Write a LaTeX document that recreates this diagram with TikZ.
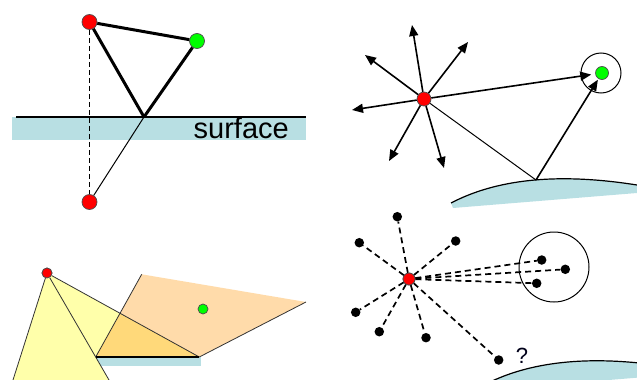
\documentclass[tikz,border=0pt]{standalone}
\usepackage{fontspec}
\setmainfont{Liberation Sans}
\usetikzlibrary{arrows.meta,calc}
\definecolor{surf}{RGB}{184,223,227}
\definecolor{yel}{RGB}{255,255,170}
\definecolor{ora}{RGB}{255,219,170}
\definecolor{ovl}{RGB}{255,217,122}
\definecolor{redd}{RGB}{255,0,0}
\definecolor{grn}{RGB}{0,255,0}
\begin{document}
\begin{tikzpicture}[x=1pt,y=-1pt,
  dot/.style={circle,inner sep=0pt,minimum size=#1,draw=black!70,line width=0.7pt},
  reddot/.style={dot=#1,fill=redd},
  grndot/.style={dot=#1,fill=grn},
  blkdot/.style={circle,inner sep=0pt,minimum size=9.5pt,fill=black},
  thickline/.style={line width=3pt},
  thinline/.style={line width=1pt},
  arr/.style={line width=1.6pt,-{Triangle[length=11pt,width=9pt]}},
  dline/.style={line width=1.7pt,dash pattern=on 6pt off 4pt},
  ring/.style={circle,draw,line width=1pt,inner sep=0pt}]
\useasboundingbox (0,0) rectangle (637,380);

% ---------- top left ----------
\fill[surf] (12,117) rectangle (306,140);
\coordinate (sl) at (16,117);
\coordinate (sr) at (306,117);
\draw[line width=1.5pt] (sl) -- (sr);
\node[anchor=base east,inner sep=0pt,font=\fontsize{29}{30}\selectfont] (surflabel) at (289,138) {surface};
\node[reddot=15pt] (r1) at (89.5,22) {};
\node[grndot=15pt] (g1) at (197,41) {};
\node[reddot=15pt] (r2) at (89.5,202) {};
\coordinate (P) at (144,117);
\draw[line width=1.6pt,dash pattern=on 5pt off 3pt] (r1) -- (r2);
\draw[thickline] (r1) -- (P);
\draw[thickline] (P) -- (g1);
\draw[thickline] (r1) -- (g1);
\draw[thinline] (P) -- (r2);

% ---------- top right ----------
\fill[surf] (451,203) .. controls (495,180) and (555,172) .. (637,185) -- (637,193) -- (453,208) -- cycle;
\draw[line width=1.2pt] (451,203) .. controls (495,180) and (555,172) .. (637,185);
\coordinate (S2) at (536,180);
\node[reddot=14pt] (r3) at (424,99) {};
\node[grndot=13pt] (g2) at (602,73) {};
\node[ring,minimum size=40pt] (c2) at (601,73) {};
\coordinate (t1) at (412,25);
\coordinate (t2) at (468,42);
\coordinate (t3) at (365,55);
\coordinate (t4) at (352,110);
\coordinate (t5) at (389,161);
\coordinate (t6) at (444,168);
\foreach \t in {t1,t2,t3,t4,t5,t6} \draw[arr] (r3) -- (\t);
\draw[arr,shorten >=4pt] (r3) -- (g2);
\draw[thinline] (r3) -- (S2);
\draw[arr,shorten >=1pt] (S2) -- (g2);

% ---------- bottom left ----------
\coordinate (L1) at (13,380);
\coordinate (L2) at (109,380);
\coordinate (A) at (95.7,357);
\coordinate (B) at (199.3,357);
\coordinate (Q1) at (141.7,274.3);
\coordinate (Q2) at (306,302);
\node[reddot=10pt] (r4) at (47,273) {};
\fill[surf] (95,357) rectangle (201,366);
\fill[yel] (r4.center) -- (L1) -- (L2) -- cycle;
\fill[yel] (r4.center) -- (A) -- (B) -- cycle;
\fill[ora] (A) -- (Q1) -- (Q2) -- (B) -- cycle;
\begin{scope}
  \clip (A) -- (Q1) -- (Q2) -- (B) -- cycle;
  \fill[ovl] (r4.center) -- (A) -- (B) -- cycle;
\end{scope}
\draw[line width=0.8pt,black!80] (r4) -- (L1);
\draw[line width=0.8pt,black!80] (r4) -- (L2);
\draw[line width=0.8pt,black!80] (r4) -- (B);
\draw[line width=0.8pt,black!80] (A) -- (Q1);
\draw[line width=0.8pt,black!80] (B) -- (Q2);
\draw[line width=2.5pt] (A) -- (B);
\node[reddot=10pt] (r4b) at (47,273) {};
\node[grndot=10pt] (g4) at (203,309) {};

% ---------- bottom right ----------
\begin{scope}
  \clip (0,0) rectangle (637,380);
  \begin{scope}[shift={(33,182)}]
    \fill[surf] (451,203) .. controls (495,180) and (555,172) .. (637,185) -- (637,193) -- (453,208) -- cycle;
    \draw[line width=1.2pt] (451,203) .. controls (495,180) and (555,172) .. (637,185);
  \end{scope}
\end{scope}
\node[ring,minimum size=70pt] (c5) at (554,267) {};
\node[reddot=12pt] (r5) at (409,279) {};
\node[blkdot] (b1) at (397.3,216.7) {};
\node[blkdot] (b2) at (359.3,242.7) {};
\node[blkdot] (b3) at (455.7,241) {};
\node[blkdot] (b4) at (355.7,312.3) {};
\node[blkdot] (b5) at (379.3,331.7) {};
\node[blkdot] (b6) at (426,337.7) {};
\node[blkdot] (b7) at (498.7,360) {};
\node[blkdot] (b8) at (541.7,260) {};
\node[blkdot] (b9) at (565.3,269.3) {};
\node[blkdot] (b10) at (536.7,283.3) {};
\foreach \b in {b1,b2,b3,b4,b5,b6,b7,b8,b9,b10} \draw[dline] (r5) -- (\b);
\node[reddot=12pt] (r5b) at (409,279) {};
\node[font=\fontsize{22}{24}\selectfont,text=black!90!blue,inner sep=0pt] (q) at (522,356) {?};
\end{tikzpicture}
\end{document}
